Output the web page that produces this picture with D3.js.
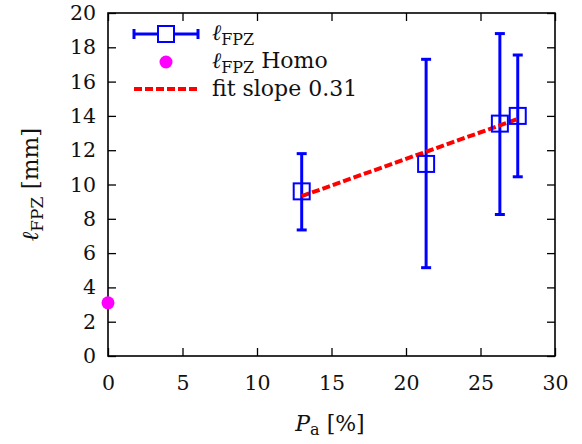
<!DOCTYPE html>
<html>
<head>
<meta charset="utf-8">
<script src="https://cdn.jsdelivr.net/npm/d3@7"></script>
<style>
  body { margin: 0; background: #fff; }
  svg text { font-family: "DejaVu Serif", serif; fill: #111; }
</style>
</head>
<body>
<div id="chart"></div>
<script>
// measured values
const porosity = [13.0, 21.35, 26.3, 27.5];
const lengthFPZ = [9.6, 11.2, 13.55, 14.0];
const errLow = [7.35, 5.15, 8.25, 10.45];
const errHigh = [11.8, 17.3, 18.8, 17.55];
const homoPorosity = [0];
const homoLength = [3.1];
const fitX = [13.0, 27.5];
const fitY = [9.32, 13.82];
const xTicks = [0, 5, 10, 15, 20, 25, 30];
const yTicks = [0, 2, 4, 6, 8, 10, 12, 14, 16, 18, 20];

const width = 582, height = 444;
const margin = { top: 13, right: 27, bottom: 88, left: 108 };
const w = width - margin.left - margin.right;
const h = height - margin.top - margin.bottom;
const serif = '"DejaVu Serif", serif';

const svg = d3.select('#chart')
  .append('svg')
  .attr('width', width)
  .attr('height', height);

const g = svg.append('g')
  .attr('transform', `translate(${margin.left},${margin.top})`);

const x = d3.scaleLinear().domain([0, 30]).range([0, w]);
const y = d3.scaleLinear().domain([0, 20]).range([h, 0]);

// axes, ticks pointing inwards on all four sides
const tickLen = 8;
g.append('g').attr('transform', `translate(0,${h})`)
  .call(d3.axisBottom(x).tickValues(xTicks).tickSizeInner(-tickLen).tickSizeOuter(0).tickPadding(19));
g.append('g')
  .call(d3.axisTop(x).tickValues(xTicks).tickSizeInner(-tickLen).tickSizeOuter(0).tickFormat(''));
g.append('g')
  .call(d3.axisLeft(y).tickValues(yTicks).tickSizeInner(-tickLen).tickSizeOuter(0).tickPadding(12));
g.append('g').attr('transform', `translate(${w},0)`)
  .call(d3.axisRight(y).tickValues(yTicks).tickSizeInner(-tickLen).tickSizeOuter(0).tickFormat(''));

g.selectAll('g').attr('font-family', serif);
g.selectAll('.domain').remove();
g.selectAll('.tick line').attr('stroke', '#000').attr('stroke-width', 1.3);
g.selectAll('.tick text')
  .style('font-family', serif)
  .style('font-size', '20.5px')
  .attr('fill', '#111');

g.append('rect')
  .attr('width', w).attr('height', h)
  .attr('fill', 'none').attr('stroke', '#000').attr('stroke-width', 1.6);

// error bars
const pts = porosity.map((p, i) => ({ p, l: lengthFPZ[i], lo: errLow[i], hi: errHigh[i] }));
const capW = 5;
const bars = g.append('g').attr('stroke', '#0000ff').attr('stroke-width', 3);
bars.selectAll('line.v').data(pts).enter().append('line')
  .attr('x1', d => x(d.p)).attr('x2', d => x(d.p))
  .attr('y1', d => y(d.lo)).attr('y2', d => y(d.hi));
bars.selectAll('line.lo').data(pts).enter().append('line')
  .attr('x1', d => x(d.p) - capW).attr('x2', d => x(d.p) + capW)
  .attr('y1', d => y(d.lo)).attr('y2', d => y(d.lo));
bars.selectAll('line.hi').data(pts).enter().append('line')
  .attr('x1', d => x(d.p) - capW).attr('x2', d => x(d.p) + capW)
  .attr('y1', d => y(d.hi)).attr('y2', d => y(d.hi));

// fit line
const line = d3.line().x(d => x(d[0])).y(d => y(d[1]));
g.append('path')
  .datum(fitX.map((v, i) => [v, fitY[i]]))
  .attr('d', line)
  .attr('fill', 'none')
  .attr('stroke', '#ff0000')
  .attr('stroke-width', 4)
  .attr('stroke-dasharray', '8,3');

// squares
const sq = 16;
g.selectAll('rect.pt').data(pts).enter().append('rect')
  .attr('x', d => x(d.p) - sq / 2).attr('y', d => y(d.l) - sq / 2)
  .attr('width', sq).attr('height', sq)
  .attr('fill', 'none').attr('stroke', '#0000ff').attr('stroke-width', 2);

// homogeneous point
g.selectAll('circle.homo').data(homoPorosity).enter().append('circle')
  .attr('cx', d => x(d)).attr('cy', (d, i) => y(homoLength[i]))
  .attr('r', 6.5).attr('fill', '#ff00ff');

// legend
const lx0 = 134, lx1 = 198, lxm = 166, ltx = 212;
const rows = [34, 62, 89];
const leg = svg.append('g');
leg.append('line').attr('x1', lx0).attr('x2', lx1).attr('y1', rows[0]).attr('y2', rows[0])
  .attr('stroke', '#0000ff').attr('stroke-width', 3);
[lx0, lx1].forEach(cx => leg.append('line').attr('x1', cx).attr('x2', cx)
  .attr('y1', rows[0] - 5).attr('y2', rows[0] + 5).attr('stroke', '#0000ff').attr('stroke-width', 3));
leg.append('rect').attr('x', lxm - sq / 2).attr('y', rows[0] - sq / 2).attr('width', sq).attr('height', sq)
  .attr('fill', '#fff').attr('stroke', '#0000ff').attr('stroke-width', 2);
leg.append('circle').attr('cx', lxm).attr('cy', rows[1]).attr('r', 6.5).attr('fill', '#ff00ff');
leg.append('line').attr('x1', lx0).attr('x2', lx1).attr('y1', rows[2]).attr('y2', rows[2])
  .attr('stroke', '#ff0000').attr('stroke-width', 4).attr('stroke-dasharray', '8,3');

function ellLabel(sel, suffix, sub) {
  sel.append('tspan').text('ℓ').style('font-style', 'italic');
  sel.append('tspan').text('FPZ').style('font-size', sub + 'px').attr('dy', 5);
  if (suffix) sel.append('tspan').text(suffix).attr('dy', -5);
}
const labels = ['', ' Homo'];
labels.forEach((s, i) => {
  const t = leg.append('text').attr('x', ltx).attr('y', rows[i] + 6).style('font-size', '22px');
  ellLabel(t, s, 16);
});
leg.append('text').attr('x', ltx).attr('y', rows[2] + 7).style('font-size', '22px').text('fit slope 0.31');

// axis titles
const xt = svg.append('text').attr('x', 330).attr('y', 431)
  .attr('text-anchor', 'middle').style('font-size', '22px');
xt.append('tspan').text('P').style('font-style', 'italic');
xt.append('tspan').text('a').style('font-size', '16px').attr('dy', 4);
xt.append('tspan').text(' [%]').attr('dy', -4);

const yt = svg.append('text')
  .attr('transform', `translate(38,${margin.top + h / 2}) rotate(-90)`)
  .attr('text-anchor', 'middle').style('font-size', '23px');
ellLabel(yt, ' [mm]', 17);
</script>
</body>
</html>
